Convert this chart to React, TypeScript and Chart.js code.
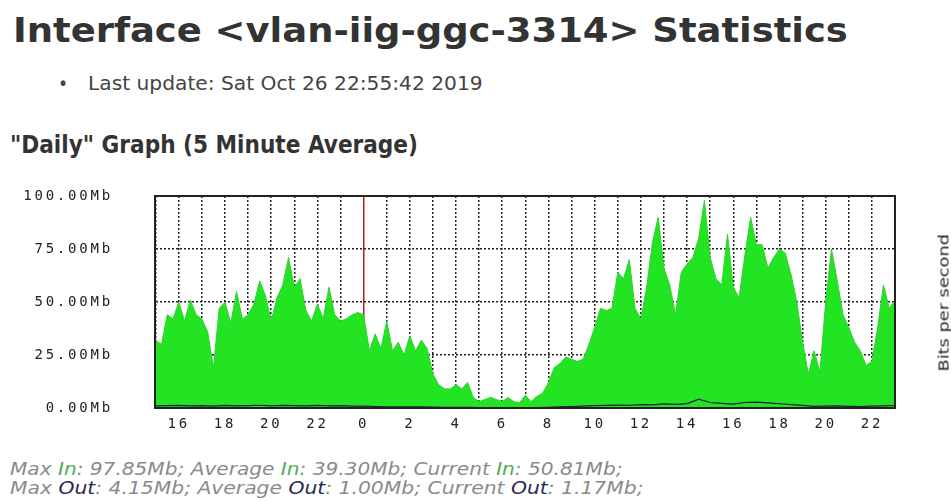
import React, { useEffect, useLayoutEffect, useRef } from 'react';
import { Chart, registerables } from 'chart.js';

Chart.register(...registerables);

// ---- data ----
const inStartHour = -9;
const inStepHours = 0.25;
const inValues = [
  32, 30, 44, 42, 50, 41, 51, 44, 42, 36, 19, 47, 50, 40, 55, 42, 44, 49, 60, 53, 41, 52, 58, 71, 57, 61, 46, 41, 49, 42, 57, 44, 41,
  42, 44, 45, 44, 27, 35, 28, 41, 27, 31, 25, 34, 27, 32, 28, 16, 11, 9, 9, 11, 9, 12, 5, 3, 4, 5, 4, 3, 5, 3, 2.5, 6, 3,
  5.5, 7, 12, 19, 21, 24, 23, 22, 23, 30, 38, 47, 46, 47, 64, 61, 70, 47, 42, 57, 78, 90, 66, 58, 44, 64, 68, 71, 80, 97.85, 71, 61, 58,
  82, 57, 52, 72, 90, 77, 77, 66, 71, 75, 73, 63, 50, 31, 16, 27, 17, 50, 75, 60, 44, 38, 31, 27, 20, 22, 38, 58, 47, 50.81,
];
const outStartHour = -9;
const outStepHours = 0.5;
const outValues = [
  1.0, 1.1, 1.2, 1.0, 1.1, 0.9, 1.2, 1.0, 1.1, 1.3,
  1.0, 1.2, 1.1, 1.0, 1.2, 1.0, 1.1, 0.9, 0.9, 0.7,
  0.6, 0.6, 0.5, 0.5, 0.4, 0.3, 0.3, 0.3, 0.2, 0.2,
  0.2, 0.2, 0.2, 0.2, 0.3, 0.5, 0.7, 0.9, 1.1, 1.2,
  1.4, 1.3, 1.6, 1.5, 1.9, 1.7, 2.1, 4.15, 2.6, 2.2,
  1.8, 2.6, 2.8, 2.4, 2.0, 1.6, 1.2, 0.8, 0.9, 1.0,
  0.8, 0.7, 0.9, 1.0, 1.17,
];
const hourTicks = [-9, -8, -7, -6, -5, -4, -3, -2, -1, 0, 1, 2, 3, 4, 5, 6, 7, 8, 9, 10, 11, 12, 13, 14, 15, 16, 17, 18, 19, 20, 21, 22, 23];
const yTicks = [0, 25, 50, 75, 100];
const xMin = -9.03;
const xMax = 23;

const titleText = 'Interface <vlan-iig-ggc-3314> Statistics';
const updateText = 'Last update: Sat Oct 26 22:55:42 2019';
const graphTitle = '"Daily" Graph (5 Minute Average)';
const axisTitle = 'Bits per second';
const inStats = [['Max', '97.85Mb'], ['Average', '39.30Mb'], ['Current', '50.81Mb']];
const outStats = [['Max', '4.15Mb'], ['Average', '1.00Mb'], ['Current', '1.17Mb']];

const GREEN = '#22e422';
const TICK_FONT = { family: '"DejaVu Sans Mono", monospace', size: 14 };

function FitText({ width, style, children }: { width: number; style?: React.CSSProperties; children: React.ReactNode }) {
  const ref = useRef<HTMLSpanElement>(null);
  useLayoutEffect(() => {
    const el = ref.current;
    if (!el) return;
    el.style.transform = 'none';
    const w = el.offsetWidth;
    if (w > 0) el.style.transform = `scaleX(${width / w})`;
  }, [width]);
  return (
    <span ref={ref} style={{ display: 'inline-block', whiteSpace: 'nowrap', transformOrigin: '0 0', ...style }}>
      {children}
    </span>
  );
}

const framePlugin = {
  id: 'frame',
  afterDraw(chart: any) {
    const { ctx, chartArea: a } = chart;
    ctx.save();
    ctx.strokeStyle = '#222';
    ctx.lineWidth = 2;
    ctx.setLineDash([]);
    ctx.strokeRect(a.left, a.top, a.right - a.left, a.bottom - a.top);
    ctx.restore();
  },
};

const spacingPlugin = {
  id: 'spacing',
  beforeUpdate(chart: any) {
    chart.ctx.letterSpacing = '2.8px';
  },
  beforeDraw(chart: any) {
    chart.ctx.letterSpacing = '2.8px';
  },
};

function statsLine(stats: string[][], word: string, color: string) {
  const parts: React.ReactNode[] = [];
  stats.forEach(([k, v], i) => {
    parts.push(
      <React.Fragment key={i}>
        {k} <span style={{ color }}>{word}</span>: {v};{i < stats.length - 1 ? ' ' : ''}
      </React.Fragment>
    );
  });
  return parts;
}

export default function App() {
  const canvasRef = useRef<HTMLCanvasElement>(null);

  useEffect(() => {
    const canvas = canvasRef.current;
    if (!canvas) return;
    const inData = inValues.map((v, i) => ({ x: inStartHour + i * inStepHours, y: v }));
    const outData = outValues.map((v, i) => ({ x: outStartHour + i * outStepHours, y: v }));
    const chart = new Chart(canvas, {
      type: 'line',
      data: {
        datasets: [
          { label: 'Out', data: outData, borderColor: '#1c1c40', borderWidth: 1.2, pointRadius: 0, fill: false, tension: 0 },
          { label: 'In', data: inData, borderColor: '#30d030', backgroundColor: GREEN, borderWidth: 1, pointRadius: 0, fill: 'origin', tension: 0 },
        ],
      },
      options: {
        responsive: false,
        animation: false,
        devicePixelRatio: 1,
        layout: { autoPadding: false, padding: { top: 16, right: 56, bottom: 0, left: 0 } },
        plugins: { legend: { display: false }, tooltip: { enabled: false } },
        scales: {
          x: {
            type: 'linear',
            min: xMin,
            max: xMax,
            z: 1,
            afterBuildTicks: (s: any) => {
              s.ticks = hourTicks.map((v) => ({ value: v }));
            },
            afterFit: (s: any) => {
              s.height = 32;
            },
            ticks: {
              autoSkip: false,
              maxRotation: 0,
              padding: 8,
              color: '#222',
              font: TICK_FONT,
              callback: (v: any) => {
                const n = Number(v);
                if (n % 2 !== 0) return '';
                return String(((n % 24) + 24) % 24);
              },
            },
            grid: {
              drawTicks: false,
              color: (c: any) => (c.tick && c.tick.value === 0 ? '#b02020' : '#222'),
              lineWidth: 1.5,
            },
            border: {
              display: true,
              color: '#222',
              width: 2,
              dash: (c: any) => (c.tick && c.tick.value !== 0 ? [2, 2] : []),
            },
          } as any,
          y: {
            min: 0,
            max: 100,
            z: 1,
            afterBuildTicks: (s: any) => {
              s.ticks = yTicks.map((v) => ({ value: v }));
            },
            afterFit: (s: any) => {
              s.width = 155;
            },
            ticks: {
              padding: 0,
              color: '#222',
              font: TICK_FONT,
              callback: (v: any) => Number(v).toFixed(2) + 'Mb',
            },
            grid: { drawTicks: true, tickLength: 42, tickColor: 'rgba(0,0,0,0)', color: '#222', lineWidth: 1.5 },
            border: {
              display: true,
              color: '#222',
              width: 2,
              dash: (c: any) => (c.tick && c.tick.value !== 0 && c.tick.value !== 100 ? [2, 2] : []),
            },
          } as any,
        },
      },
      plugins: [spacingPlugin, framePlugin],
    });
    return () => chart.destroy();
  }, []);

  const sans = '"DejaVu Sans Condensed", "DejaVu Sans", sans-serif';

  return (
    <div style={{ position: 'absolute', left: 0, top: 0, width: 951, height: 501, overflow: 'hidden', background: '#fff' }}>
      <div style={{ position: 'absolute', left: 13, top: 13, fontFamily: sans, fontStretch: 'condensed', fontWeight: 'bold', fontSize: 34, lineHeight: '34px', color: '#333' }}>
        <FitText width={835}>{titleText}</FitText>
      </div>
      <div style={{ position: 'absolute', left: 58, top: 74, fontFamily: sans, fontSize: 19, lineHeight: '19px', color: '#444' }}>•</div>
      <div style={{ position: 'absolute', left: 88, top: 74, fontFamily: sans, fontStretch: 'condensed', fontSize: 19, lineHeight: '19px', color: '#444' }}>
        <FitText width={395}>{updateText}</FitText>
      </div>
      <div style={{ position: 'absolute', left: 10, top: 133, fontFamily: sans, fontStretch: 'condensed', fontWeight: 'bold', fontSize: 24, lineHeight: '24px', color: '#333' }}>
        <FitText width={408}>{graphTitle}</FitText>
      </div>
      <canvas ref={canvasRef} width={951} height={260} style={{ position: 'absolute', left: 0, top: 180, width: 951, height: 260 }} />
      <div style={{ position: 'absolute', left: 943 - 68, top: 303 - 8, width: 137, height: 16, transform: 'rotate(-90deg)', transformOrigin: '50% 50%', fontFamily: '"DejaVu Sans", sans-serif', fontSize: 14, lineHeight: '16px', color: '#222' }}>
        <FitText width={137}>{axisTitle}</FitText>
      </div>
      <div style={{ position: 'absolute', left: 10, top: 460, fontFamily: sans, fontStretch: 'condensed', fontStyle: 'italic', fontSize: 18, lineHeight: '18px', color: '#8a8a8a' }}>
        <FitText width={612}>{statsLine(inStats, 'In', '#4cae4c')}</FitText>
      </div>
      <div style={{ position: 'absolute', left: 10, top: 479, fontFamily: sans, fontStretch: 'condensed', fontStyle: 'italic', fontSize: 18, lineHeight: '18px', color: '#8a8a8a' }}>
        <FitText width={633}>{statsLine(outStats, 'Out', '#2a2a55')}</FitText>
      </div>
    </div>
  );
}
